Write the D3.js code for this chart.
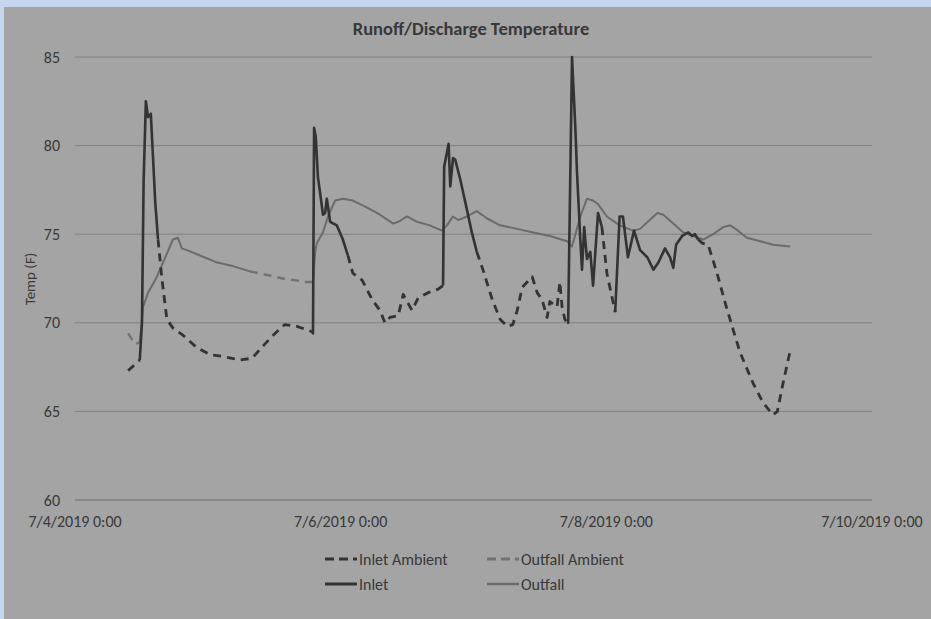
<!DOCTYPE html>
<html lang="en">
<head>
<meta charset="UTF-8">
<title>Runoff/Discharge Temperature</title>
<script src="https://d3js.org/d3.v7.min.js"></script>
<style>
  body { margin:0; background:#c6d6ee; }
  svg { display:block; }
  text { font-family: Carlito, Lato, "Open Sans", sans-serif; fill:#383838; }
</style>
</head>
<body>
<svg id="chart" width="931" height="619"></svg>
<script>
// hours since 7/4/2019 0:00, null = break in the line
var inletAmbientH = [9.6,11.4,11.7,null,15.0,15.7,16.6,17.7,19.5,22.0,24.4,26.7,29.8,32.0,34.0,35.8,37.9,40.1,41.9,42.8,null,
  49.3,50.2,51.9,53.7,55.1,56.0,56.9,58.4,59.3,60.0,60.9,62.0,63.8,65.6,66.5,null,
  72.6,73.7,75.4,76.8,78.1,79.1,79.9,80.8,82.6,83.5,84.4,85.3,85.8,87.1,87.6,88.0,88.5,88.9,null,
  95.2,96.1,97.6,null,
  112.6,113.3,114.4,116.0,117.5,119.3,120.2,122.5,124.3,126.1,126.9,127.8,129.2];
var inletAmbientV = [67.3,67.8,67.9,null,74.7,72.5,70.2,69.7,69.3,68.6,68.2,68.1,67.9,68.0,68.7,69.3,69.9,69.8,69.6,69.5,null,
  73.8,72.8,72.4,71.3,70.7,70.0,70.3,70.4,71.6,71.2,70.7,71.4,71.7,71.9,72.1,null,
  74.0,73.0,71.3,70.2,69.8,69.9,70.7,72.0,72.6,71.7,71.3,70.3,71.2,70.9,72.3,70.9,70.2,70.0,null,
  75.4,72.8,70.6,null,
  74.7,74.5,74.4,72.8,71.1,69.2,68.3,66.6,65.5,64.8,65.0,66.4,68.4];

var outfallAmbientH = [9.6,10.8,11.7,null,31.6,34.7,37.6,41.9,43.0];
var outfallAmbientV = [69.4,68.8,68.9,null,72.9,72.7,72.5,72.3,72.3];

var inletH = [11.7,12.1,12.4,12.8,13.2,13.7,14.1,14.5,15.0,null,
  42.8,43.0,43.2,43.5,43.9,44.3,44.8,45.2,45.5,46.1,47.3,48.4,49.3,null,
  66.5,66.7,67.5,67.8,68.3,68.7,69.6,70.8,71.7,72.6,null,
  88.9,89.1,89.8,90.4,90.7,91.3,91.6,92.0,92.5,93.1,93.6,94.5,95.2,null,
  97.6,98.1,98.4,99.0,99.9,101.0,102.1,103.4,104.5,105.4,106.6,107.5,108.1,108.6,109.7,110.8,111.5,112.0,112.6];
var inletV = [67.9,70.0,78.0,82.5,81.6,81.8,79.3,76.8,74.7,null,
  69.5,69.4,81.0,80.5,78.2,77.3,76.1,76.2,77.0,75.7,75.5,74.7,73.8,null,
  72.1,78.8,80.1,77.7,79.3,79.2,78.1,76.4,75.1,74.0,null,
  70.0,70.0,85.0,81.0,78.5,74.7,73.0,75.4,73.6,74.0,72.1,76.2,75.4,null,
  70.6,74.0,76.0,76.0,73.7,75.2,74.1,73.7,73.0,73.4,74.2,73.7,73.1,74.4,74.9,75.1,74.9,75.0,74.7];

var outfallH = [11.7,12.3,13.2,14.8,16.6,17.7,18.6,19.3,20.2,22.6,25.7,28.5,31.6,null,
  43.0,43.4,43.7,44.8,45.7,47.0,48.4,50.2,52.8,55.1,57.5,58.4,60.0,61.8,64.1,66.3,67.2,68.3,69.2,70.1,71.4,72.6,
  74.4,76.8,79.9,82.8,85.8,88.9,89.8,91.3,92.5,93.6,94.5,96.1,98.4,100.8,102.1,103.5,105.2,106.3,108.1,109.9,
  111.7,113.5,115.3,117.1,118.4,119.8,121.4,123.8,126.1,129.2];
var outfallV = [68.9,70.9,71.7,72.6,73.9,74.7,74.8,74.2,74.1,73.8,73.4,73.2,72.9,null,
  72.3,74.0,74.5,75.1,76.0,76.9,77.0,76.9,76.5,76.1,75.6,75.7,76.0,75.7,75.5,75.2,75.5,76.0,75.8,75.9,76.1,76.3,
  75.9,75.5,75.3,75.1,74.9,74.6,74.3,76.0,77.0,76.9,76.7,76.0,75.5,75.2,75.3,75.7,76.2,76.1,75.6,75.1,
  74.9,74.7,75.0,75.4,75.5,75.2,74.8,74.6,74.4,74.3];

var yTicks = [60,65,70,75,80,85];
var xTickDays = ["2019-07-04","2019-07-06","2019-07-08","2019-07-10"];

var svg = d3.select("#chart");
var start = new Date(2019,6,4,0,0);
function hourDate(h){ return new Date(start.getTime() + h*3600000); }

var x = d3.scaleTime().domain([start, hourDate(144)]).range([75,872]);
var y = d3.scaleLinear().domain([60,85]).range([500,57]);

// panel
svg.append("rect").attr("x",4).attr("y",7).attr("width",931).attr("height",619).attr("fill","#a4a4a4");

svg.append("text").attr("x",471).attr("y",35).attr("text-anchor","middle")
  .style("font-size","18.5px").style("font-weight","bold").text("Runoff/Discharge Temperature");

// gridlines
svg.append("g").selectAll("line").data(yTicks).enter().append("line")
  .attr("x1",x.range()[0]).attr("x2",x.range()[1])
  .attr("y1",function(d){return y(d);}).attr("y2",function(d){return y(d);})
  .attr("stroke",function(d){return d==60 ? "#6e6e6e" : "#808080";}).attr("stroke-width",1);

svg.append("g").selectAll("text").data(yTicks).enter().append("text")
  .attr("x",60).attr("y",function(d){return y(d)+5.5;}).attr("text-anchor","end")
  .style("font-size","16px").text(function(d){return d;});

var fmt = d3.timeFormat("%-m/%-d/%Y %-H:%M");
svg.append("g").selectAll("text").data(xTickDays).enter().append("text")
  .attr("x",function(d){return x(d3.timeParse("%Y-%m-%d")(d));}).attr("y",527)
  .attr("text-anchor","middle").style("font-size","16px")
  .text(function(d){return fmt(d3.timeParse("%Y-%m-%d")(d));});

svg.append("text").attr("transform","translate(35,279) rotate(-90)").attr("text-anchor","middle")
  .style("font-size","15px").text("Temp (F)");

function series(hs, vs){
  return hs.map(function(h,i){ return h==null ? null : {t:hourDate(h), v:vs[i]}; });
}
var line = d3.line().defined(function(d){return d!=null;})
  .x(function(d){return x(d.t);}).y(function(d){return y(d.v);});

var styles = [
  {name:"Outfall", data:series(outfallH,outfallV), color:"#6b6b6b", w:2, dash:null},
  {name:"Outfall Ambient", data:series(outfallAmbientH,outfallAmbientV), color:"#727272", w:2.4, dash:"8,6"},
  {name:"Inlet Ambient", data:series(inletAmbientH,inletAmbientV), color:"#333333", w:2.8, dash:"8,6"},
  {name:"Inlet", data:series(inletH,inletV), color:"#333333", w:2.6, dash:null}
];

svg.append("g").selectAll("path").data(styles).enter().append("path")
  .attr("d",function(d){return line(d.data);})
  .attr("fill","none").attr("stroke",function(d){return d.color;})
  .attr("stroke-width",function(d){return d.w;})
  .attr("stroke-dasharray",function(d){return d.dash;})
  .attr("stroke-linejoin","round");

// legend
var legendPos = {"Inlet Ambient":[325,559], "Outfall Ambient":[487,559], "Inlet":[325,584], "Outfall":[487,584]};
var lg = svg.append("g").selectAll("g").data(styles).enter().append("g")
  .attr("transform",function(d){return "translate("+legendPos[d.name][0]+","+legendPos[d.name][1]+")";});
lg.append("line").attr("x1",0).attr("x2",32).attr("y1",0).attr("y2",0)
  .attr("stroke",function(d){return d.color;}).attr("stroke-width",function(d){return d.w+0.4;})
  .attr("stroke-dasharray",function(d){return d.dash ? "9,5" : null;});
lg.append("text").attr("x",34).attr("y",5.5).style("font-size","16px").text(function(d){return d.name;});
</script>
</body>
</html>
